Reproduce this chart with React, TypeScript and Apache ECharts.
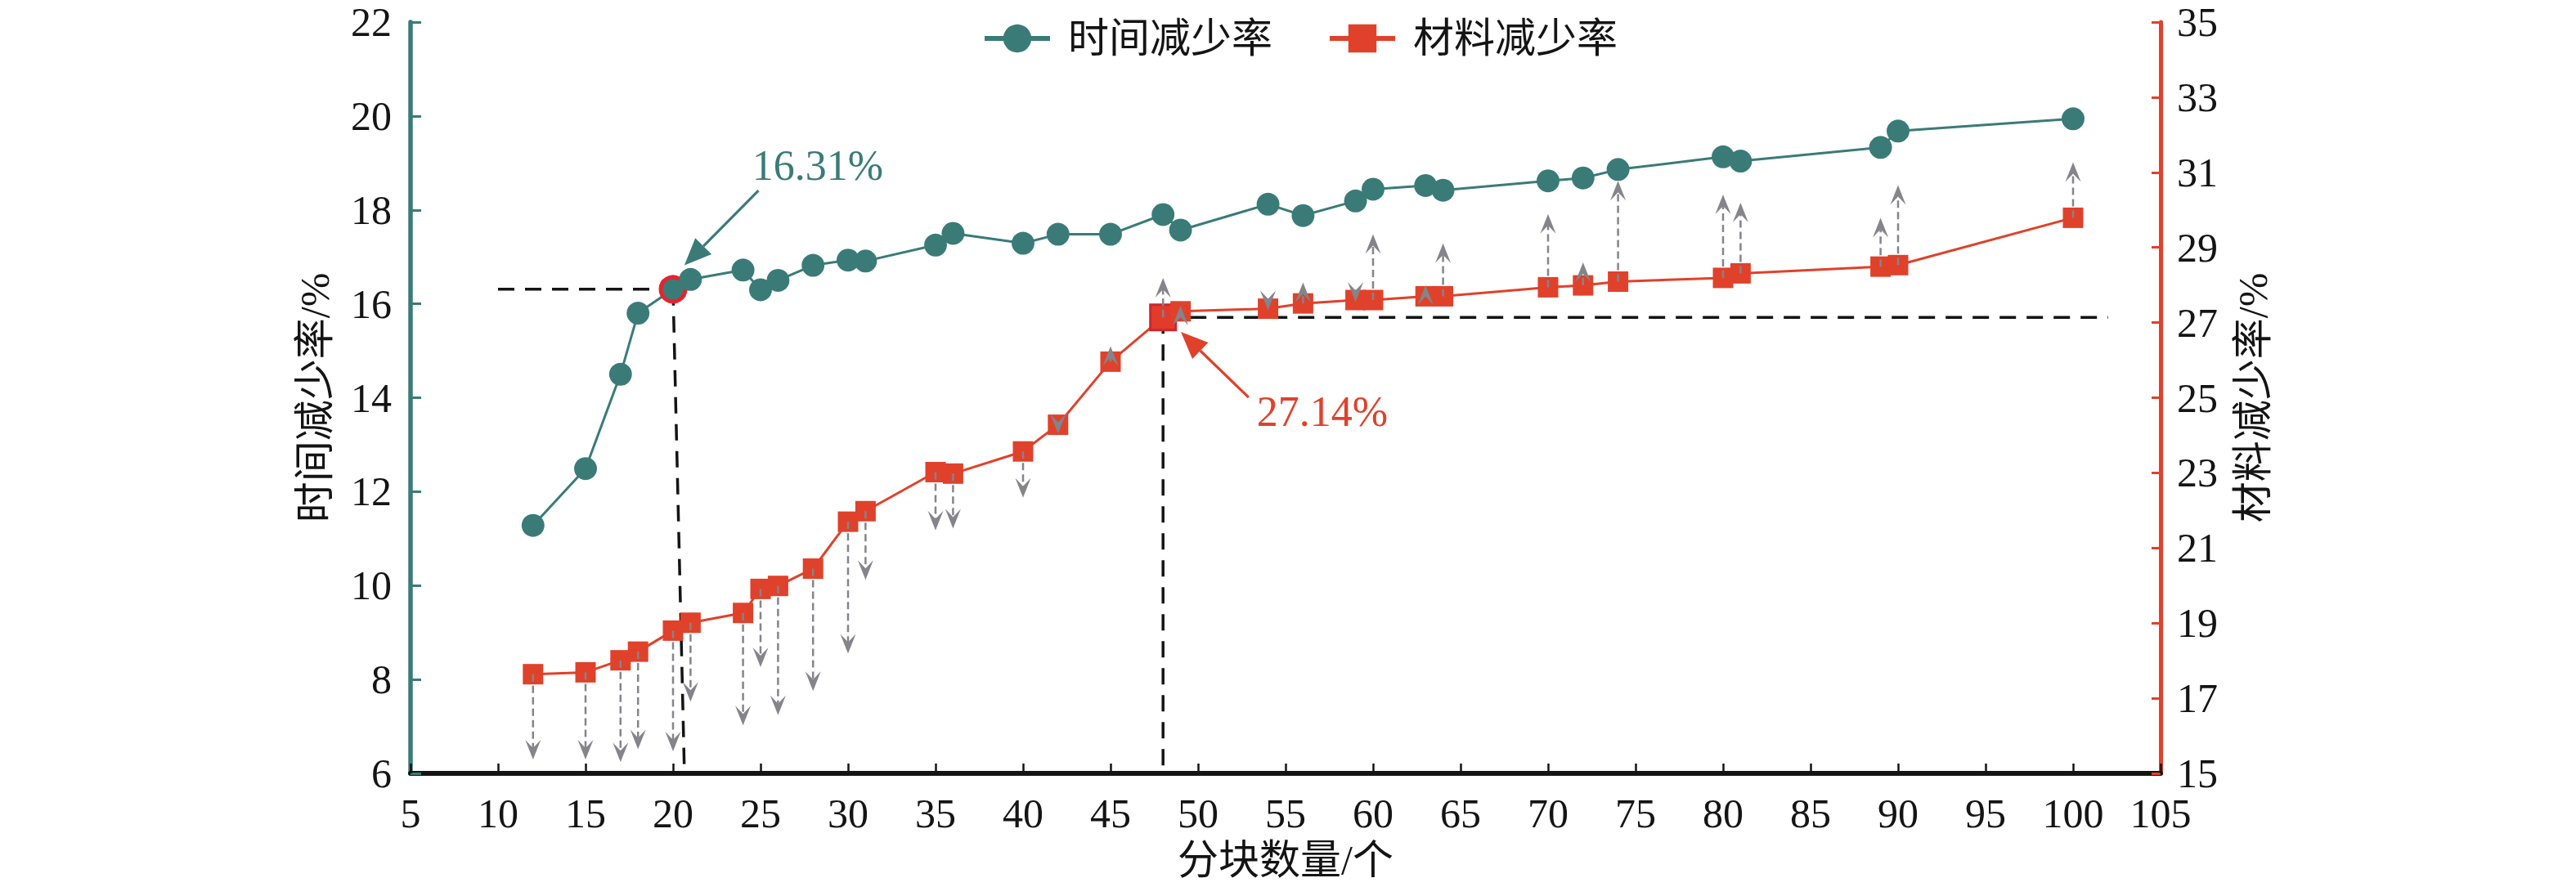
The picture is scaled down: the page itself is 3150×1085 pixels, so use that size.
import React, { useEffect, useRef } from "react";
import * as echarts from "echarts";

// ---- data ----
const blockCounts = [12, 15, 17, 18, 20, 21, 24, 25, 26, 28, 30, 31, 35, 36, 40, 42, 45, 48, 49, 54, 56, 59, 60, 63, 64, 70, 72, 74, 80, 81, 89, 90, 100];
const timeRate = [11.28, 12.49, 14.5, 15.8, 16.31, 16.52, 16.72, 16.3, 16.5, 16.82, 16.93, 16.91, 17.25, 17.5, 17.29, 17.48, 17.48, 17.9, 17.57, 18.12, 17.88, 18.19, 18.44, 18.52, 18.42, 18.62, 18.68, 18.86, 19.13, 19.04, 19.33, 19.68, 19.94];
const materialRate = [17.64, 17.69, 18.01, 18.24, 18.8, 19.01, 19.27, 19.91, 19.99, 20.45, 21.7, 21.98, 23.02, 22.98, 23.57, 24.28, 25.96, 27.14, 27.3, 27.37, 27.51, 27.6, 27.6, 27.7, 27.7, 27.94, 27.99, 28.09, 28.19, 28.31, 28.49, 28.53, 29.79];
const arrowEnd = [15.37, 15.37, 15.3, 15.64, 15.59, 16.91, 16.28, 17.83, 16.55, 17.19, 18.19, 20.15, 21.47, 21.52, 22.34, 24.04, 26.37, 28.19, 27.45, 27.33, 28.07, 27.55, 29.35, 28.0, 29.11, 29.89, 28.6, 30.77, 30.41, 30.19, 29.79, 30.66, 31.27];
const seriesNames = ["时间减少率", "材料减少率"];
const xTicks = { min: 5, max: 105, interval: 5 };
const leftTicks = { min: 6, max: 22, interval: 2 };
const rightTicks = { min: 15, max: 35, interval: 2 };
const timeHighlightIndex = 4; // 20 blocks -> 16.31%
const materialHighlightIndex = 17; // 48 blocks -> 27.14%
// reference dashed lines [x0, y0, x1, y1]
const refLinesLeft = [[10, 16.31, 20, 16.31], [20, 16.31, 20.65, 6]];
const refLinesRight = [[48, 27.14, 102, 27.14], [48, 27.14, 48, 15]];
// annotation: [textX, textY, arrowX0, arrowY0, arrowTipX, arrowTipY]
const timeAnnot = [28.27, 18.95, 24.88, 18.41, 20.65, 16.82];
const materialAnnot = [57.1, 24.62, 52.89, 25.01, 49.02, 26.75];

const TEAL = "#3a7b78";
const RED = "#e0412b";
const GRAY = "#84848b";
const BLACK = "#141414";
const FONT = "'Liberation Serif', 'Noto Sans CJK SC', serif";

function refLineSeries(yAxisIndex: number, lines: number[][]) {
  return {
    type: "custom",
    yAxisIndex,
    z: 1,
    silent: true,
    clip: false,
    data: lines,
    encode: { x: [0, 2], y: [1, 3] },
    renderItem: (_p: any, api: any) => {
      const a = api.coord([api.value(0), api.value(1)]);
      const b = api.coord([api.value(2), api.value(3)]);
      return {
        type: "line",
        shape: { x1: a[0], y1: a[1], x2: b[0], y2: b[1] },
        style: { stroke: BLACK, lineWidth: 3.5, lineDash: [20, 13] },
      };
    },
  };
}

function annotSeries(yAxisIndex: number, item: number[], label: string, color: string) {
  return {
    type: "custom",
    yAxisIndex,
    z: 6,
    silent: true,
    clip: false,
    data: [item],
    encode: { x: [0, 2, 4], y: [1, 3, 5] },
    renderItem: (_p: any, api: any) => {
      const t = api.coord([api.value(0), api.value(1)]);
      const a0 = api.coord([api.value(2), api.value(3)]);
      const a1 = api.coord([api.value(4), api.value(5)]);
      const dx = a1[0] - a0[0];
      const dy = a1[1] - a0[1];
      const len = Math.hypot(dx, dy);
      const ux = dx / len;
      const uy = dy / len;
      const HL = 33;
      const HW = 14;
      const base = [a1[0] - ux * HL, a1[1] - uy * HL];
      const left = [base[0] - uy * HW, base[1] + ux * HW];
      const right = [base[0] + uy * HW, base[1] - ux * HW];
      return {
        type: "group",
        children: [
          { type: "line", shape: { x1: a0[0], y1: a0[1], x2: base[0], y2: base[1] }, style: { stroke: color, lineWidth: 3.2 } },
          { type: "polygon", shape: { points: [a1, left, right] }, style: { fill: color } },
          {
            type: "text",
            x: t[0],
            y: t[1],
            style: { text: label, fill: color, font: `52px ${FONT}`, textAlign: "center", textVerticalAlign: "middle" },
          },
        ],
      };
    },
  };
}

export default function App() {
  const ref = useRef<HTMLDivElement>(null);
  useEffect(() => {
    document.body.style.margin = "0";
    if (!ref.current) return;
    const chart = echarts.init(ref.current, undefined, { renderer: "svg" });

    const timeData = blockCounts.map((x, i) =>
      i === timeHighlightIndex
        ? { value: [x, timeRate[i]], symbolSize: 30, itemStyle: { color: TEAL, borderColor: "#e3242f", borderWidth: 5 } }
        : { value: [x, timeRate[i]] }
    );
    const materialData = blockCounts.map((x, i) =>
      i === materialHighlightIndex
        ? { value: [x, materialRate[i]], symbolSize: 31, itemStyle: { color: "#e23b2c", borderColor: "#cc2630", borderWidth: 3 } }
        : { value: [x, materialRate[i]] }
    );
    const arrowData = blockCounts.map((x, i) => [x, materialRate[i], arrowEnd[i]]);

    chart.setOption({
      animation: false,
      grid: { left: 502, right: 508, top: 27, bottom: 139, containLabel: false },
      legend: {
        data: seriesNames,
        left: 1196,
        top: 17,
        itemWidth: 80,
        itemHeight: 43,
        itemGap: 67,
        lineStyle: { width: 6 },
        textStyle: { fontSize: 50, fontFamily: FONT, color: BLACK, padding: [0, 0, 0, 17] },
      },
      xAxis: {
        type: "value",
        min: xTicks.min,
        max: xTicks.max,
        interval: xTicks.interval,
        name: "分块数量/个",
        nameLocation: "middle",
        nameGap: 81,
        nameTextStyle: { fontSize: 50, fontFamily: FONT, color: BLACK },
        axisLine: { lineStyle: { color: BLACK, width: 6 } },
        axisTick: { inside: true, length: 12, lineStyle: { color: BLACK, width: 2.5 } },
        axisLabel: { fontSize: 50, fontFamily: FONT, color: BLACK, margin: 24 },
        splitLine: { show: false },
      },
      yAxis: [
        {
          type: "value",
          min: leftTicks.min,
          max: leftTicks.max,
          interval: leftTicks.interval,
          name: "时间减少率/%",
          nameLocation: "middle",
          nameGap: 92,
          nameTextStyle: { fontSize: 50, fontFamily: FONT, color: BLACK },
          axisLine: { show: true, lineStyle: { color: TEAL, width: 5.5 } },
          axisTick: { show: true, inside: true, length: 13, lineStyle: { color: TEAL, width: 3 } },
          axisLabel: { fontSize: 50, lineHeight: 44, fontFamily: FONT, color: BLACK, margin: 23 },
          splitLine: { show: false },
        },
        {
          type: "value",
          position: "right",
          min: rightTicks.min,
          max: rightTicks.max,
          interval: rightTicks.interval,
          name: "材料减少率/%",
          nameLocation: "middle",
          nameGap: 88,
          nameTextStyle: { fontSize: 50, fontFamily: FONT, color: BLACK },
          axisLine: { show: true, lineStyle: { color: RED, width: 5 } },
          axisTick: { show: true, inside: true, length: 11, lineStyle: { color: RED, width: 3 } },
          axisLabel: { fontSize: 50, lineHeight: 44, fontFamily: FONT, color: BLACK, margin: 20 },
          splitLine: { show: false },
        },
      ],
      series: [
        refLineSeries(0, refLinesLeft),
        refLineSeries(1, refLinesRight),
        {
          name: seriesNames[0],
          type: "line",
          z: 3,
          yAxisIndex: 0,
          data: timeData,
          symbol: "circle",
          symbolSize: 28,
          itemStyle: { color: TEAL },
          lineStyle: { color: TEAL, width: 3 },
        },
        {
          name: seriesNames[1],
          type: "line",
          z: 3,
          yAxisIndex: 1,
          data: materialData,
          symbol: "rect",
          symbolSize: 25,
          itemStyle: { color: RED },
          lineStyle: { color: RED, width: 3 },
        },
        {
          type: "custom",
          yAxisIndex: 1,
          z: 5,
          silent: true,
          clip: false,
          data: arrowData,
          encode: { x: 0, y: [1, 2] },
          renderItem: (_p: any, api: any) => {
            const x = api.value(0);
            const p0 = api.coord([x, api.value(1)]);
            const p1 = api.coord([x, api.value(2)]);
            const dir = p1[1] >= p0[1] ? 1 : -1;
            const L = 24;
            const W = 9.5;
            const N = 14;
            const notchY = p1[1] - dir * N;
            const children: any[] = [];
            if ((notchY - p0[1]) * dir > 1) {
              children.push({
                type: "line",
                shape: { x1: p0[0], y1: p0[1], x2: p0[0], y2: notchY },
                style: { stroke: GRAY, lineWidth: 2.5, lineDash: [9, 5] },
              });
            }
            children.push({
              type: "polygon",
              shape: {
                points: [
                  [p1[0], p1[1]],
                  [p1[0] - W, p1[1] - dir * L],
                  [p1[0], notchY],
                  [p1[0] + W, p1[1] - dir * L],
                ],
              },
              style: { fill: GRAY },
            });
            return { type: "group", children };
          },
        },
        annotSeries(0, timeAnnot, `${timeRate[timeHighlightIndex].toFixed(2)}%`, TEAL),
        annotSeries(1, materialAnnot, `${materialRate[materialHighlightIndex].toFixed(2)}%`, RED),
      ],
    });
    return () => chart.dispose();
  }, []);
  return <div ref={ref} style={{ width: 3150, height: 1085 }} />;
}
